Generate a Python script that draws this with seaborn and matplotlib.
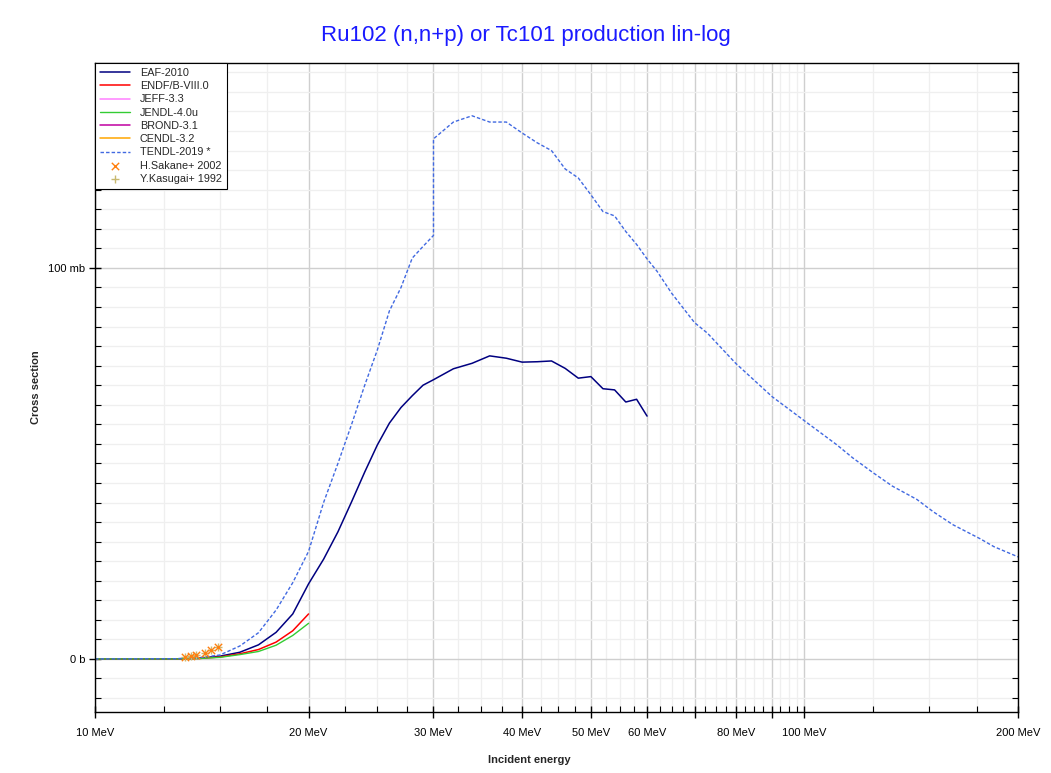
import matplotlib
matplotlib.use('Agg')
import matplotlib.pyplot as plt
import matplotlib.ticker as mticker
import seaborn as sns
import numpy as np

# cross sections in mb, energies in MeV
eaf_energy = [10, 12, 13, 14, 15, 16, 17, 18, 19, 20, 21, 22, 23, 24, 25, 26, 27, 28, 29, 30,
              32, 34, 36, 38, 40, 42, 44, 46, 48, 50, 52, 54, 56, 58, 60]
eaf_xs = [0, 0, 0.02, 0.2, 0.7, 1.7, 3.6, 6.8, 11.5, 19.2, 25.5, 32.5, 40.2, 47.8, 54.7, 60.3, 64.3, 67.3, 70.0, 71.4,
          74.2, 75.6, 77.5, 76.9, 75.9, 76.0, 76.2, 74.3, 71.8, 72.2, 69.1, 68.8, 65.7, 66.4, 62.1]

endf_energy = [10, 13, 14, 15, 16, 17, 18, 19, 20]
endf_xs = [0, 0, 0.1, 0.5, 1.3, 2.4, 4.3, 7.2, 11.5]

jendl_energy = [10, 13, 14, 15, 16, 17, 18, 19, 20]
jendl_xs = [0, 0, 0.1, 0.4, 1.1, 1.9, 3.5, 6.0, 9.1]

tendl_energy = [10, 13, 14, 15, 16, 17, 18, 19, 20, 21, 22, 23, 24, 25, 26, 27, 28, 29, 30, 30,
                32, 34, 36, 38, 40, 42, 44, 46, 48, 50, 52, 54, 56, 58, 60, 62, 65, 70, 73, 80,
                90, 100, 111, 117, 125, 133, 144, 152, 162, 177, 185, 200]
tendl_xs = [0, 0.05, 0.3, 1.0, 3.3, 6.7, 12.5, 19.5, 27.5, 40, 50, 60, 70, 79, 89, 95, 102.5, 105.5, 108.3, 133,
            137.3, 138.9, 137.3, 137.3, 134.5, 132.0, 130.0, 125.3, 123.0, 118.7, 114.4, 113.3, 109.3, 106.0, 102.3, 99.1, 93.5, 86.0, 83.3, 75.6,
            67.1, 60.9, 54.8, 51.4, 47.6, 44.2, 40.8, 37.6, 34.3, 30.7, 28.7, 26.1]

sakane_energy = [13.4, 13.64, 13.88, 14.29, 14.57, 14.89]
sakane_xs = [0.6, 0.8, 1.1, 1.6, 2.3, 3.1]
kasugai_energy = [13.4, 13.64, 13.88, 14.29, 14.57, 14.89]
kasugai_xs = [0.6, 0.8, 1.1, 1.6, 2.3, 3.1]

x_ticks = [10, 20, 30, 40, 50, 60, 70, 80, 90, 100, 200]
x_tick_labels = ['10 MeV', '20 MeV', '30 MeV', '40 MeV', '50 MeV', '60 MeV', '',
                 '80 MeV', '', '100 MeV', '200 MeV']

sns.set_theme(style='white')
plt.rcParams['font.family'] = ['Liberation Sans', 'DejaVu Sans']

fig = plt.figure(figsize=(10.51, 7.73), dpi=100)
ax = fig.add_axes([95 / 1051, 1 - 711.7 / 773, 923 / 1051, (711.7 - 63) / 773])

sns.lineplot(x=eaf_energy, y=eaf_xs, ax=ax, color='#000080', lw=1.1,
             estimator=None, sort=False, label='EAF-2010')
sns.lineplot(x=endf_energy, y=endf_xs, ax=ax, color='#ff0000', lw=1.1,
             estimator=None, sort=False, label='ENDF/B-VIII.0')
ax.plot([], [], color='#ff80ff', lw=1.1, label='JEFF-3.3')
sns.lineplot(x=jendl_energy, y=jendl_xs, ax=ax, color='#33cc33', lw=1.0,
             estimator=None, sort=False, label='JENDL-4.0u')
ax.plot([], [], color='#c000a0', lw=1.1, label='BROND-3.1')
ax.plot([], [], color='#ffa500', lw=1.1, label='CENDL-3.2')
sns.lineplot(x=tendl_energy, y=tendl_xs, ax=ax, color='#4169e1', lw=1.0,
             estimator=None, sort=False, label='TENDL-2019 *', dashes=False,
             linestyle=(0, (2.5, 1.5)))
sns.scatterplot(x=sakane_energy, y=sakane_xs, ax=ax, marker='x', color='#ff7f0e',
                s=28, linewidth=1.0, label='H.Sakane+ 2002', zorder=5)
sns.scatterplot(x=kasugai_energy, y=kasugai_xs, ax=ax, marker='+', color='#c8b870',
                s=40, linewidth=1.0, label='Y.Kasugai+ 1992', zorder=4)

ax.set_xscale('log')
ax.set_xlim(10, 200)
ax.set_ylim(-13.5, 152.4)

ax.xaxis.set_major_locator(mticker.FixedLocator(x_ticks))
ax.xaxis.set_major_formatter(mticker.FixedFormatter(x_tick_labels))
minor_x = [v for v in np.arange(12.5, 100, 2.5) if v % 10 != 0] + [125, 150, 175]
ax.xaxis.set_minor_locator(mticker.FixedLocator(minor_x))
ax.xaxis.set_minor_formatter(mticker.NullFormatter())

ax.yaxis.set_major_locator(mticker.MultipleLocator(100))
ax.yaxis.set_minor_locator(mticker.MultipleLocator(5))
ax.yaxis.set_major_formatter(mticker.FuncFormatter(
    lambda v, p: '0 b' if abs(v) < 1e-9 else f'{v:.0f} mb'))

ax.set_axisbelow(True)
ax.grid(which='major', color='#cfcfcf', lw=1.0)
ax.grid(which='minor', color='#efefef', lw=0.9)

for sp in ax.spines.values():
    sp.set_visible(True)
    sp.set_color('black')
    sp.set_linewidth(1.0)

ax.tick_params(which='major', direction='inout', length=8, width=1, color='black',
               labelsize=8, labelcolor='black', top=False, right=False, bottom=True, left=True)
ax.tick_params(which='minor', direction='in', length=4, width=0.8, color='black',
               top=False, right=True, bottom=True, left=True)
ax.tick_params(axis='x', which='major', pad=7.5)
ax.tick_params(axis='y', which='major', pad=3)

ax.set_xlabel('Incident energy', fontsize=8, fontweight='bold')
ax.set_ylabel('Cross section', fontsize=8, fontweight='bold')
ax.xaxis.set_label_coords(0.471, -0.067)
ax.yaxis.set_label_coords(-0.058, 0.5)

fig.text(0.5, 1 - 35 / 773, 'Ru102 (n,n+p) or Tc101 production lin-log', color='#1a1aff',
         fontsize=16, ha='center', va='center')

leg = ax.legend(loc='upper left', bbox_to_anchor=(0, 1), borderaxespad=0, fontsize=7.8,
                frameon=True, fancybox=False, framealpha=1, edgecolor='black',
                labelspacing=0.3, handlelength=2.8, handletextpad=0.9, borderpad=0.45,
                scatterpoints=1)
leg.get_frame().set_linewidth(0.8)

fig.savefig('out.png', dpi=100)
